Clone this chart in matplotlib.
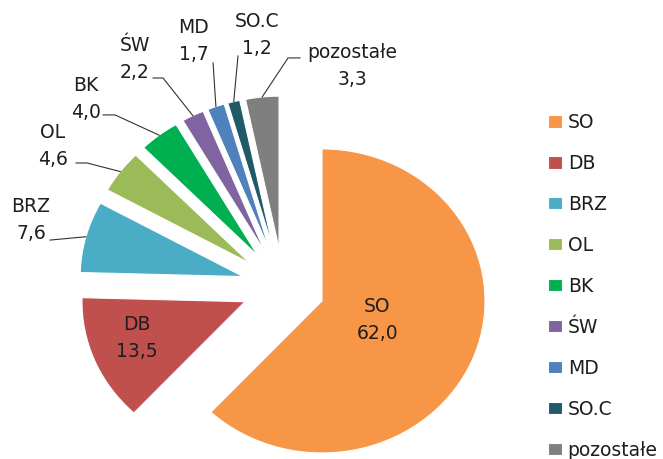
import matplotlib
matplotlib.use('Agg')
import matplotlib.pyplot as plt
import numpy as np

plt.rcParams['font.family'] = ['DejaVu Sans']

names = ['SO', 'DB', 'BRZ', 'OL', 'BK', 'ŚW', 'MD', 'SO.C', 'pozostałe']
values = [62.0, 13.5, 7.6, 4.6, 4.0, 2.2, 1.7, 1.2, 3.3]
colors = ['#F79646', '#C0504D', '#4BACC6', '#9BBB59', '#00B050',
          '#8064A2', '#4F81BD', '#215968', '#7F7F7F']

# label layout in data units: text centre, leader start, stub end (None = no stub)
inside = {'SO': (0.575, -0.219), 'DB': (-0.898, -0.337)}
outside = {
    'BRZ': ((-1.548, 0.439), (-1.431, 0.307), None),
    'OL': ((-1.413, 0.926), (-1.272, 0.814), (-1.204, 0.814)),
    'BK': ((-1.210, 1.234), (-1.106, 1.130), (-1.032, 1.130)),
    'ŚW': ((-0.911, 1.497), (-0.799, 1.373), (-0.738, 1.373)),
    'MD': ((-0.548, 1.616), (-0.431, 1.472), None),
    'SO.C': ((-0.161, 1.656), (-0.278, 1.518), None),
    'pozostałe': ((0.421, 1.452), (0.102, 1.505), (0.029, 1.505)),
}

txt_color = '#1e1e1e'
fs = 13.5

fig = plt.figure(figsize=(6.63, 4.59), dpi=100)
ax = fig.add_axes([0, 0, 1, 1])
wedges, _ = ax.pie(values, colors=colors, startangle=90, counterclock=False,
                   explode=[0.255] * len(values),
                   wedgeprops=dict(edgecolor='white', linewidth=0.8))
ax.set_aspect('auto')
ax.set_xlim(-1.738, 2.329)
ax.set_ylim(-1.133, 1.886)
ax.axis('off')

for w, name, v in zip(wedges, names, values):
    lab = name + '\n' + ('%.1f' % v).replace('.', ',')
    if name in inside:
        x, y = inside[name]
        ax.text(x, y, lab, ha='center', va='center', fontsize=fs,
                color=txt_color, linespacing=1.55)
        continue
    (tx, ty), (sx, sy), stub = outside[name]
    ax.text(tx, ty, lab, ha='center', va='center', fontsize=fs,
            color=txt_color, linespacing=1.55)
    mid = np.deg2rad((w.theta1 + w.theta2) / 2)
    ex = w.center[0] + w.r * np.cos(mid)
    ey = w.center[1] + w.r * np.sin(mid)
    xs, ys = [sx], [sy]
    if stub is not None:
        xs.append(stub[0])
        ys.append(stub[1])
    xs.append(ex)
    ys.append(ey)
    ax.plot(xs, ys, color='#333333', lw=0.8)

ax.legend(wedges, names, loc='upper left', frameon=False,
          bbox_to_anchor=(548 / 663, 1 - 113 / 459), bbox_transform=fig.transFigure,
          fontsize=fs, handlelength=0.75, handleheight=0.64, handletextpad=0.3,
          labelspacing=1.17, borderaxespad=0, borderpad=0,
          labelcolor=txt_color)

fig.savefig('out.png', dpi=100)
